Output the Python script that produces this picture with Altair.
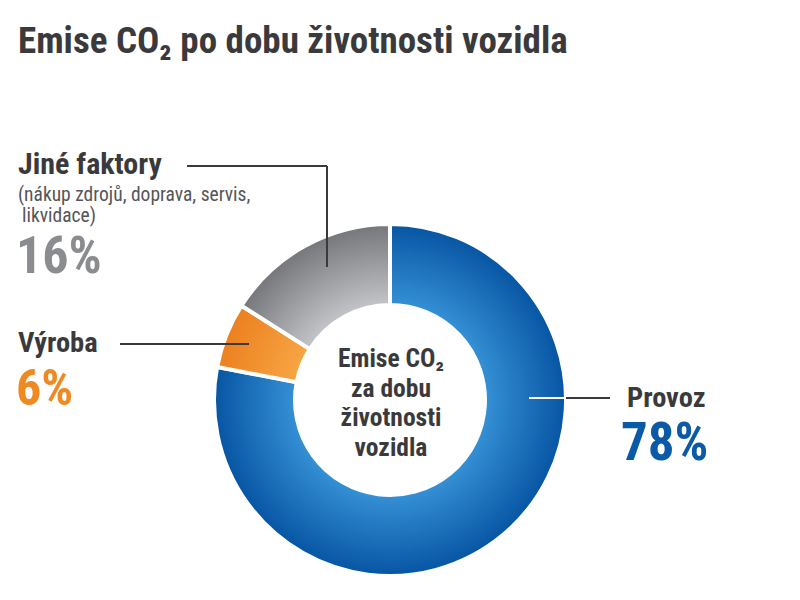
import altair as alt
import pandas as pd

# ---- data ----
categories = ["Provoz", "Výroba", "Jiné faktory"]
values = [78, 6, 16]
order = [0, 1, 2]
title_text = "Emise CO₂ po dobu životnosti vozidla"
center_lines = ["Emise CO₂", "za dobu", "životnosti", "vozidla"]
other_note = ["(nákup zdrojů, doprava, servis,", "likvidace)"]

# ---- styles ----
FONT = "Roboto Condensed, Roboto, Liberation Sans, sans-serif"
DARK = "#3a3a3c"
BLUE = "#0b5aa8"
ORANGE = "#ef8a22"
GRAY = "#8b8c8f"
CX, CY = 390, 400
R_OUT, R_IN = 176, 95


def radial(cx, cy, r1, r2, inner, outer):
    return {
        "gradient": "radial",
        "x1": cx, "y1": cy, "r1": r1,
        "x2": cx, "y2": cy, "r2": r2,
        "stops": [{"offset": 0, "color": inner}, {"offset": 1, "color": outer}],
    }


grads = {
    "Provoz": radial(0.5, 0.5, 0.27, 0.5, "#3590d4", "#0755a3"),
    "Výroba": radial(1.865, 1.105, 1.025, 1.9, "#f7a544", "#ec801f"),
    "Jiné faktory": radial(1.0, 1.263, 0.64, 1.18, "#c3c4c7", "#76777b"),
}

df = pd.DataFrame({"category": categories, "value": values, "order": order})

base = alt.Chart(df).transform_window(
    end="sum(value)", sort=[alt.SortField("order")], frame=[None, 0]
).transform_calculate(start="datum.end - datum.value")

theta_scale = alt.Scale(domain=[0, 100], range=[0, 6.283185307179586])


def slice_layer(cat):
    return base.transform_filter(alt.datum.category == cat).mark_arc(
        x=CX, y=CY, radius=R_OUT, radius2=R_IN,
        fill=grads[cat], stroke="white", strokeWidth=4,
    ).encode(
        theta=alt.Theta("start:Q", scale=theta_scale, stack=False),
        theta2="end:Q",
    )


def txt(text, x, y, size, color, weight="bold", align="left"):
    return alt.Chart(pd.DataFrame({"t": [text]})).mark_text(
        x=x, y=y, fontSize=size, color=color, fontWeight=weight,
        align=align, baseline="alphabetic", font=FONT,
    ).encode(text="t:N")


def seg(x1, y1, x2, y2, color=DARK, w=2):
    return alt.Chart(pd.DataFrame({"a": [0]})).mark_rule(
        color=color, strokeWidth=w
    ).encode(
        x=alt.value(x1), x2=alt.value(x2), y=alt.value(y1), y2=alt.value(y2)
    )


layers = [slice_layer(c) for c in categories]

# leader lines
layers += [
    seg(187, 166, 327, 166),
    seg(327, 166, 327, 267),
    seg(120, 344, 249, 344),
    seg(529, 398, 566, 398, color="white"),
    seg(566, 398, 610, 398),
]

# texts
layers += [
    txt(title_text, 18, 53, 37, DARK),
    txt(categories[2], 18, 174, 30, DARK),
    txt(other_note[0], 18, 201, 19.5, "#555557", weight="normal"),
    txt(other_note[1], 22, 222, 19.5, "#555557", weight="normal"),
    txt(f"{values[2]}%", 16, 273, 52, GRAY),
    txt(categories[1], 18, 352, 28.5, DARK),
    txt(f"{values[1]}%", 16, 405, 50, ORANGE),
    txt(categories[0], 627, 407, 28.5, DARK),
    txt(f"{values[0]}%", 621, 460, 53, BLUE),
]
for i, line in enumerate(center_lines):
    layers.append(txt(line, 391, 367 + i * 29.7, 25.5, DARK, align="center"))

chart = alt.layer(*layers).properties(
    width=800, height=600, autosize=alt.AutoSizeParams(type="none"), padding=0,
    background="white",
).configure_view(stroke=None)

chart.save("out.html", embed_options={"renderer": "svg", "actions": False})
